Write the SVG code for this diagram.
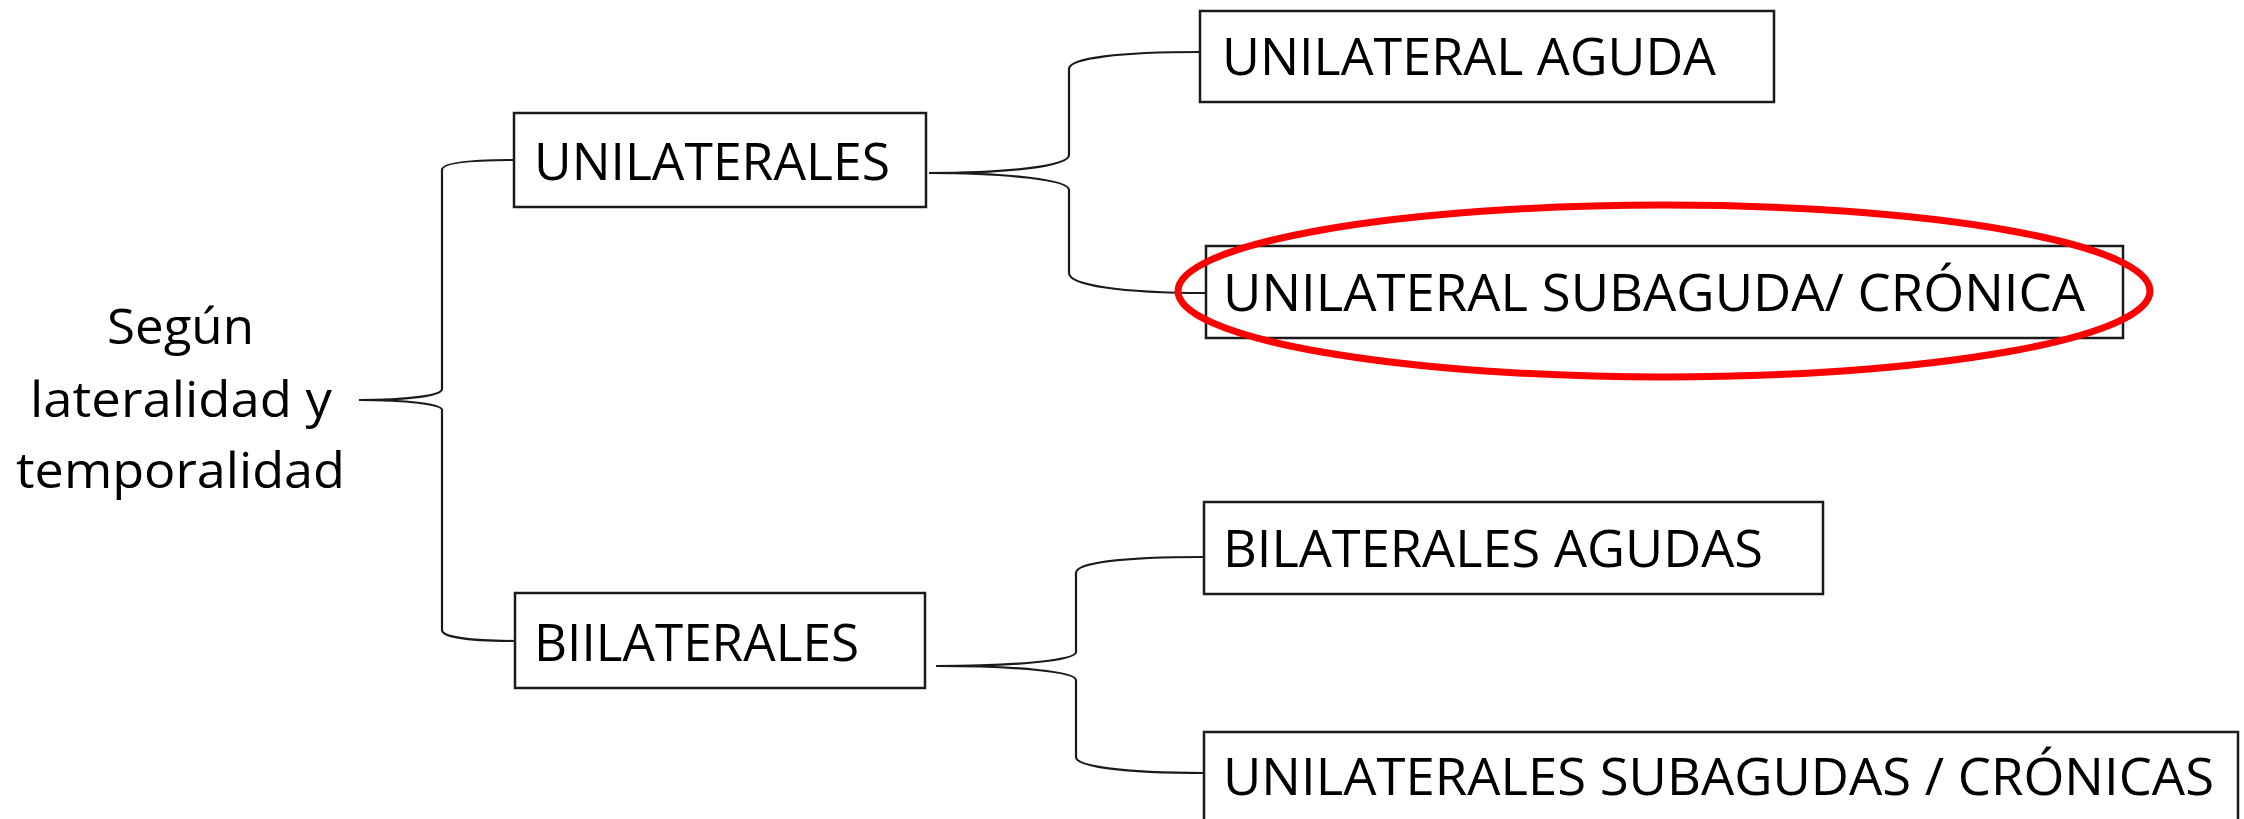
<svg xmlns="http://www.w3.org/2000/svg" width="2244" height="819" viewBox="0 0 2244 819">
  <style>
    .box { fill: #ffffff; stroke: #1a1a1a; stroke-width: 2.5; }
    .lbl { font-family: "Open Sans", "Noto Sans", "Liberation Sans", sans-serif; font-size: 52px; fill: #000000; }
    .root { font-family: "Open Sans", "Noto Sans", "Liberation Sans", sans-serif; font-size: 50px; fill: #000000; }
    .link { fill: none; stroke: #1a1a1a; stroke-width: 2.2; }
    .mark { fill: none; stroke: #ff0000; stroke-width: 7; }
  </style>
  <rect width="2244" height="819" fill="#ffffff"/>

  <!-- brace connectors -->
  <g id="connectors">
    <path class="link" d="M359,400 C405,400 442,396 442,389 L442,170 C442,163 470,160 514,160"/>
    <path class="link" d="M359,400 C405,400 442,404 442,410 L442,630 C442,637 470,641 515,641"/>
    <path class="link" d="M929,173 C1010,173 1069,166 1069,155 L1069,69 C1069,58 1120,52 1200,52"/>
    <path class="link" d="M929,173 C1010,173 1069,180 1069,190 L1069,273 C1069,285 1120,293 1206,293"/>
    <path class="link" d="M936,666 C1020,666 1076,660 1076,652 L1076,573 C1076,563 1120,557 1204,557"/>
    <path class="link" d="M936,666 C1020,666 1076,672 1076,680 L1076,757 C1076,766 1120,773 1204,773"/>
  </g>

  <g id="root">
    <text class="root" x="107" y="344" textLength="147" lengthAdjust="spacingAndGlyphs">Según</text>
    <text class="root" x="30" y="417" textLength="302" lengthAdjust="spacingAndGlyphs">lateralidad y</text>
    <text class="root" x="16" y="488" textLength="329" lengthAdjust="spacingAndGlyphs">temporalidad</text>
  </g>

  <g id="unilaterales">
    <rect class="box" x="514" y="113" width="412" height="94"/>
    <text class="lbl" x="534" y="180" textLength="356" lengthAdjust="spacingAndGlyphs">UNILATERALES</text>
  </g>

  <g id="biilaterales">
    <rect class="box" x="515" y="593" width="410" height="95"/>
    <text class="lbl" x="534" y="661" textLength="325" lengthAdjust="spacingAndGlyphs">BIILATERALES</text>
  </g>

  <g id="unilateral-aguda">
    <rect class="box" x="1200" y="11" width="574" height="91"/>
    <text class="lbl" x="1222" y="75" textLength="494" lengthAdjust="spacingAndGlyphs">UNILATERAL AGUDA</text>
  </g>

  <g id="unilateral-subaguda">
    <rect class="box" x="1206" y="246" width="917" height="92"/>
    <text class="lbl" x="1223" y="311" textLength="862" lengthAdjust="spacingAndGlyphs">UNILATERAL SUBAGUDA/ CRÓNICA</text>
    <ellipse class="mark" cx="1664" cy="291" rx="486" ry="86"/>
  </g>

  <g id="bilaterales-agudas">
    <rect class="box" x="1204" y="502" width="619" height="92"/>
    <text class="lbl" x="1223" y="567" textLength="540" lengthAdjust="spacingAndGlyphs">BILATERALES AGUDAS</text>
  </g>

  <g id="unilaterales-subagudas">
    <rect class="box" x="1204" y="732" width="1034" height="110"/>
    <text class="lbl" x="1223" y="795" textLength="991" lengthAdjust="spacingAndGlyphs">UNILATERALES SUBAGUDAS / CRÓNICAS</text>
  </g>
</svg>
